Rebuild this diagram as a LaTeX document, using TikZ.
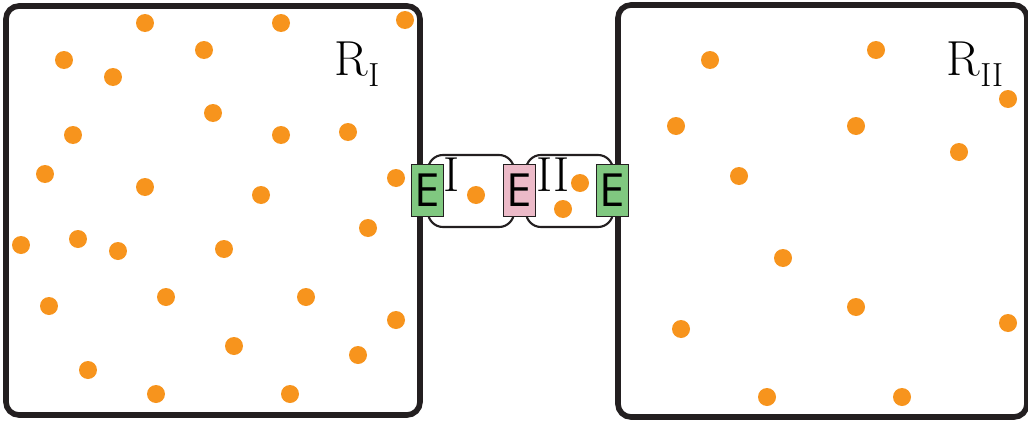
\documentclass[tikz,border=0pt]{standalone}
\usepackage{fontspec}
\newfontfamily\efont{Open Sans}
\usetikzlibrary{positioning}
\definecolor{dotorange}{RGB}{247,148,29}
\definecolor{egreen}{RGB}{128,200,128}
\definecolor{epink}{RGB}{236,186,200}
\definecolor{wallgray}{RGB}{35,31,32}

\begin{document}
\begin{tikzpicture}[x=0.02cm,y=-0.02cm,
  dot/.style={circle,fill=dotorange,inner sep=0pt,minimum size=0.36cm},
  wall/.style={draw=wallgray,line width=3.2pt,rounded corners=0.26cm},
  chamber/.style={draw=wallgray,line width=1.2pt,rounded corners=0.3cm},
  biglabel/.style={font=\fontsize{28}{28}\selectfont,inner sep=1pt},
  ebox/.style={draw=wallgray,line width=0.5pt,minimum width=0.64cm,minimum height=1.04cm,inner sep=0pt,font=\efont\fontsize{26}{26}\selectfont}]
\useasboundingbox (0,0) rectangle (1028,423);
% reservoirs
\draw[wall] (6,6) rectangle (420,415);
\draw[wall] (618,5) rectangle (1027,417);
\node[biglabel] (rI) at (357,64) {R\raisebox{-6pt}{\fontsize{19}{19}\selectfont I}};
\node[biglabel] (rII) at (975,64) {R\raisebox{-6pt}{\fontsize{19}{19}\selectfont II}};
% chambers
\draw[chamber] (428,155) rectangle (514,227);
\draw[chamber] (526,155) rectangle (613,227);
\node[biglabel] (cI) at (452,175) {I};
\node[biglabel] (cII) at (553,175) {II};
\node[ebox,fill=egreen] (e1) at (427,190) {E};
\node[ebox,fill=epink] (e2) at (519.5,190) {E};
\node[ebox,fill=egreen] (e3) at (612,190) {E};
% particles in R_I
\node[dot] (a1) at (145,23) {};
\node[dot] (a2) at (281,23) {};
\node[dot] (a3) at (405,20) {};
\node[dot] (a4) at (64,60) {};
\node[dot] (a5) at (204,50) {};
\node[dot] (a6) at (113,77) {};
\node[dot] (a7) at (213,113) {};
\node[dot] (a8) at (73,135) {};
\node[dot] (a9) at (281,135) {};
\node[dot] (a10) at (348,132) {};
\node[dot] (a11) at (45,174) {};
\node[dot] (a12) at (145,187) {};
\node[dot] (a13) at (261,195) {};
\node[dot] (a14) at (396,178) {};
\node[dot] (a15) at (21,245) {};
\node[dot] (a16) at (78,239) {};
\node[dot] (a17) at (118,251) {};
\node[dot] (a18) at (224,249) {};
\node[dot] (a19) at (368,228) {};
\node[dot] (a20) at (49,306) {};
\node[dot] (a21) at (166,297) {};
\node[dot] (a22) at (306,297) {};
\node[dot] (a23) at (396,320) {};
\node[dot] (a24) at (234,346) {};
\node[dot] (a25) at (358,355) {};
\node[dot] (a26) at (88,370) {};
\node[dot] (a27) at (156,394) {};
\node[dot] (a28) at (290,394) {};
% particles in the chambers
\node[dot] (m1) at (476,195) {};
\node[dot] (m2) at (563,209) {};
\node[dot] (m3) at (580,183) {};
% particles in R_II
\node[dot] (b1) at (710,60) {};
\node[dot] (b2) at (876,50) {};
\node[dot] (b3) at (1008,99) {};
\node[dot] (b4) at (676,126) {};
\node[dot] (b5) at (856,126) {};
\node[dot] (b6) at (959,152) {};
\node[dot] (b7) at (739,176) {};
\node[dot] (b8) at (783,258) {};
\node[dot] (b9) at (856,307) {};
\node[dot] (b10) at (1008,323) {};
\node[dot] (b11) at (681,329) {};
\node[dot] (b12) at (767,397) {};
\node[dot] (b13) at (902,397) {};
\end{tikzpicture}
\end{document}
